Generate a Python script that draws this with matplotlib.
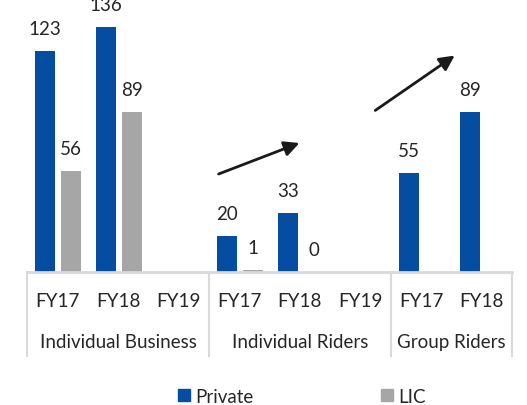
import numpy as np
import matplotlib.pyplot as plt
from matplotlib.lines import Line2D

plt.rcParams['font.family'] = ['Lato', 'DejaVu Sans']

## Data
periods = ['FY17', 'FY18', 'FY19', 'FY17', 'FY18', 'FY19', 'FY17', 'FY18']
groups = ['Individual Business', 'Individual Riders', 'Group Riders']
group_sizes = [3, 3, 2]
private = [123, 136, np.nan, 20, 33, np.nan, 55, 89]
lic = [56, 89, np.nan, 1, 0, np.nan, np.nan, np.nan]

blue = '#044DA0'
grey = '#A6A6A6'
txt = '#262626'
rule = '#D9D9D9'
fs = 13.5

W, H = 527, 406
fig = plt.figure(figsize=(W/100, H/100), dpi=100)

## Plot area, in pixels (top of the bars area runs off the top of the figure)
left, right, base = 27, 512, 273
ymax = 160
ppu = 1.8  # pixels per unit
top = base - ymax*ppu
ax = fig.add_axes([left/W, (H-base)/H, (right-left)/W, (base-top)/H])
ax.set_xlim(-0.5, len(periods)-0.5)
ax.set_ylim(0, ymax)
ax.axis('off')

upx = len(periods)/(right-left)  # data units per pixel along x
x = np.arange(len(periods))
bw = 20*upx
bp = ax.bar(x - 12*upx, private, bw, color=blue, zorder=2)
bl = ax.bar(x + 14*upx, lic, bw, color=grey, zorder=2)

for bars, vals in ((bp, private), (bl, lic)):
    for b, v in zip(bars, vals):
        if np.isnan(v):
            continue
        ax.annotate(f'{v:.0f}', (b.get_x() + b.get_width()/2, v),
                    xytext=(0, 10), textcoords='offset points',
                    ha='center', va='bottom', fontsize=fs, color=txt)

## Category axis: baseline, period labels, group labels and separators
hpx = base - top
def below(px):
    return -px/hpx

tr = ax.get_xaxis_transform()
ax.plot([-0.5, len(periods)-0.5], [0, 0], color=rule, lw=2, transform=tr,
        clip_on=False, zorder=3)
for xi, p in zip(x, periods):
    ax.text(xi, below(29), p, ha='center', va='center', fontsize=fs,
            color=txt, transform=tr)

edges = np.concatenate([[0], np.cumsum(group_sizes)]) - 0.5
for xe in edges:
    ax.plot([xe, xe], [0, below(84)], color=rule, lw=1.5, transform=tr,
            clip_on=False)
for g, a, b in zip(groups, edges[:-1], edges[1:]):
    ax.text((a + b)/2, below(70), g, ha='center', va='center', fontsize=fs,
            color=txt, transform=tr)

## Growth arrows
def arrow(x0, y0, x1, y1):
    ax.annotate('', xy=(x1/W, 1 - y1/H), xytext=(x0/W, 1 - y0/H),
                xycoords='figure fraction', textcoords='figure fraction',
                annotation_clip=False,
                arrowprops=dict(arrowstyle='-|>,head_length=0.9,head_width=0.45',
                                color='#1A1A1A', lw=2))

arrow(-25, -30, 62, -4)
arrow(216, 176, 302, 143)
arrow(373, 113, 457, 55)

## Legend
handles = [Line2D([], [], marker='s', ls='', color=blue, markersize=8),
           Line2D([], [], marker='s', ls='', color=grey, markersize=8)]
fig.legend(handles, ['Private', 'LIC'], loc='center', ncol=2,
           bbox_to_anchor=(0.57, 0.022), frameon=False, fontsize=fs,
           handletextpad=0.1, columnspacing=6.6, labelcolor=txt,
           handlelength=1.0)

fig.savefig('out.png', dpi=100)
